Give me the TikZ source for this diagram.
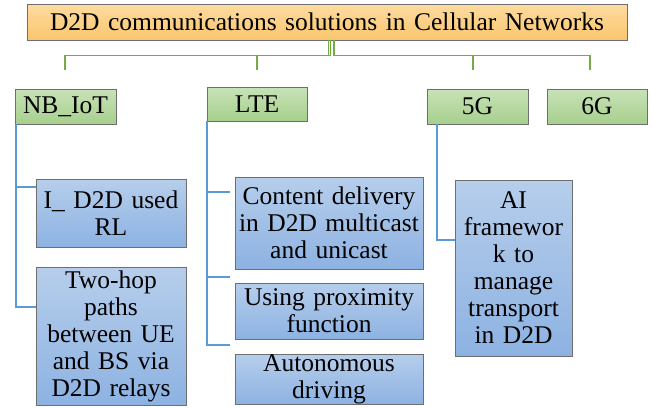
\documentclass[tikz,border=0pt]{standalone}
\usepackage{fontspec}
\setmainfont{LiberationSerif}[Extension=.ttf, UprightFont=*-Regular, BoldFont=*-Bold, ItalicFont=*-Italic]
\definecolor{orTop}{RGB}{254,219,160}
\definecolor{orBot}{RGB}{249,198,110}
\definecolor{grTop}{RGB}{200,226,184}
\definecolor{grBot}{RGB}{166,207,140}
\definecolor{blTop}{RGB}{182,206,235}
\definecolor{blBot}{RGB}{141,178,226}
\definecolor{edge}{RGB}{110,110,110}
\definecolor{gLine}{RGB}{112,173,71}
\definecolor{bLine}{RGB}{91,155,213}
\tikzset{
  card/.style={draw=edge, line width=0.8pt, inner sep=0pt, align=center,
    font=\fontsize{25.5}{27}\selectfont},
  titlebox/.style={card, top color=orTop, bottom color=orBot},
  levelbox/.style={card, top color=grTop, bottom color=grBot},
  leafbox/.style={card, top color=blTop, bottom color=blBot},
  boxsize/.style 2 args={minimum width=#1pt, minimum height=#2pt, text width=#1pt},
  gline/.style={draw=gLine, line width=1.8pt},
  bline/.style={draw=bLine, line width=1.8pt},
}
\begin{document}
\begin{tikzpicture}[x=1pt, y=-1pt]
\useasboundingbox (0,0) rectangle (652,407);

% root
\node[titlebox, boxsize={600}{36}] (root) at (327,22) {D2D communications solutions in Cellular Networks};

% technology level
\node[levelbox, boxsize={101}{35}] (nb)  at (65.5,106.5) {NB\_IoT};
\node[levelbox, boxsize={100}{34}] (lte) at (257,104)    {LTE};
\node[levelbox, boxsize={101}{35}] (g5)  at (477.5,106.5) {5G};
\node[levelbox, boxsize={100}{35}] (g6)  at (597,106.5)  {6G};

% solutions
\node[leafbox, boxsize={150}{68}]  (i1) at (111,213) {I\_ D2D used\\RL};
\node[leafbox, boxsize={150}{138}] (th) at (111,336) {Two-hop\\paths\\between UE\\and BS via\\D2D relays};
\node[leafbox, boxsize={188}{92}]  (c1) at (329,223) {Content delivery\\in D2D multicast\\and unicast};
\node[leafbox, boxsize={188}{56}]  (u1) at (329,311) {Using proximity\\function};
\node[leafbox, boxsize={188}{50}]  (a1) at (329,379) {Autonomous\\driving};
\node[leafbox, boxsize={117}{176}] (ai) at (513.5,268) {AI\\framewor\\k to\\manage\\transport\\in D2D};

% ends of the green drops above the level boxes
\coordinate (d1) at (65,70);
\coordinate (d2) at (257,70);
\coordinate (d3) at (473,70);
\coordinate (d4) at (590,70);

% root to level connectors
\draw[gline] ([xshift=1.5pt]root.south) -- ++(0,15) -| (d1);
\draw[gline] ([xshift=3.5pt]root.south) -- ++(0,15) -| (d2);
\draw[gline] ([xshift=7pt]root.south) -- ++(0,15) -| (d3);
\draw[gline] ([xshift=7pt]root.south) -- ++(0,15) -| (d4);

% level to solution connectors
\draw[bline] ([xshift=1pt]nb.south west) |- ([yshift=26pt]i1.west);
\draw[bline] ([xshift=1pt]nb.south west) |- ([yshift=29pt]th.west);
\draw[bline] (lte.south west) |- ([xshift=-5pt, yshift=31pt]c1.west);
\draw[bline] (lte.south west) |- ([xshift=-5pt, yshift=34pt]u1.west);
\draw[bline] (lte.south west) |- ([xshift=-5pt, yshift=34pt]a1.west);
\draw[bline] ([xshift=10pt]g5.south west) |- ([yshift=28pt]ai.west);
\end{tikzpicture}
\end{document}
